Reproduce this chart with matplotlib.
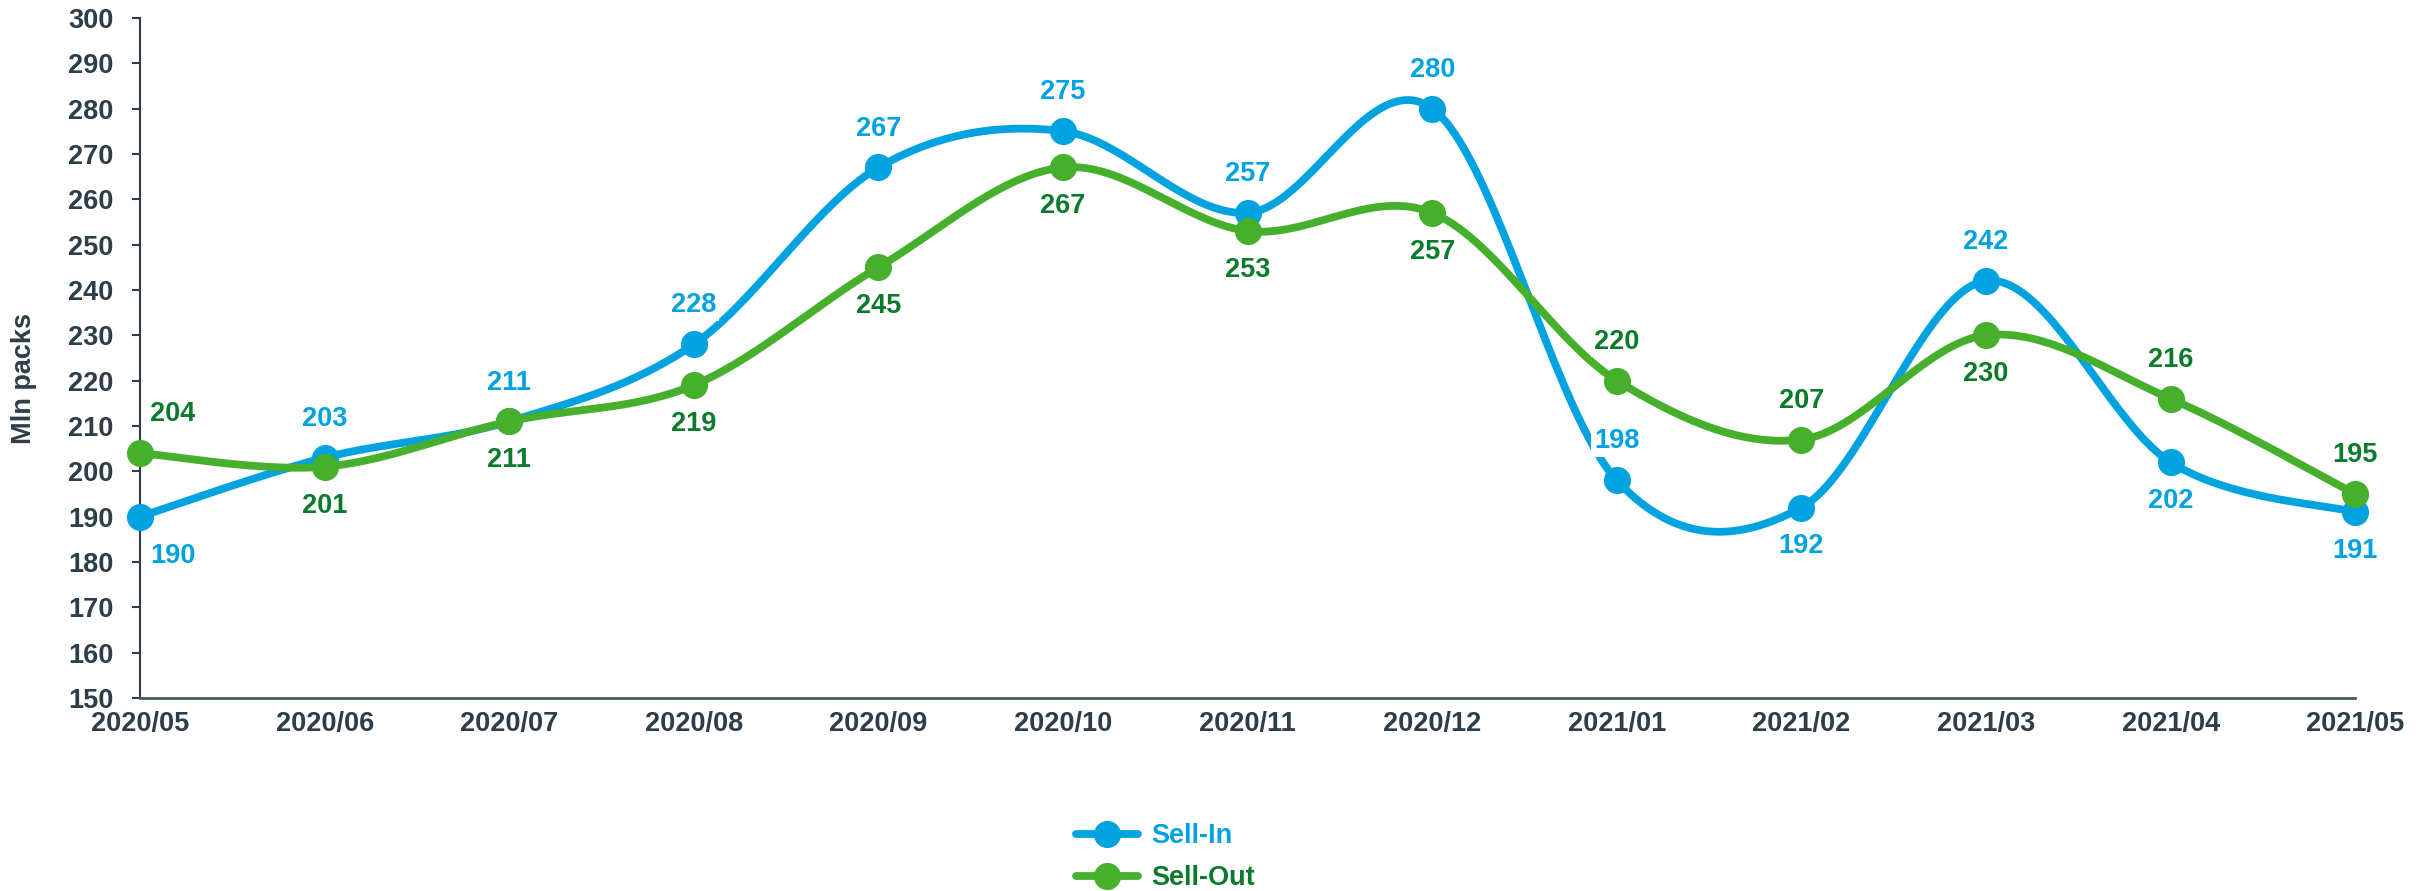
"""Sell-In vs Sell-Out monthly volume (Mln packs), smoothed line chart."""

import numpy as np
import matplotlib
matplotlib.use("Agg")
import matplotlib.pyplot as plt
from matplotlib.lines import Line2D

months = ["2020/05", "2020/06", "2020/07", "2020/08", "2020/09", "2020/10",
          "2020/11", "2020/12", "2021/01", "2021/02", "2021/03", "2021/04",
          "2021/05"]
sell_in = [190, 203, 211, 228, 267, 275, 257, 280, 198, 192, 242, 202, 191]
sell_out = [204, 201, 211, 219, 245, 267, 253, 257, 220, 207, 230, 216, 195]

# label placement: +1 above, -1 below
sell_in_pos = [-1, 1, 1, 1, 1, 1, 1, 1, 1, -1, 1, -1, -1]
sell_out_pos = [1, -1, -1, -1, -1, -1, -1, -1, 1, 1, -1, 1, 1]

BLUE = "#00A3E0"
GREEN = "#46B02C"
DKGREEN = "#0A7A2C"
AXIS = "#2D3E48"
FS = 19.5

plt.rcParams["font.family"] = ["Liberation Sans", "DejaVu Sans"]
plt.rcParams["font.weight"] = "bold"


def smooth(y, n=40):
    """Excel-like Catmull-Rom / Bezier smoothing through the points."""
    x = np.arange(len(y), dtype=float)
    y = np.asarray(y, dtype=float)
    px = np.concatenate([[x[0]], x, [x[-1]]])
    py = np.concatenate([[y[0]], y, [y[-1]]])
    xs, ys = [], []
    t = np.linspace(0, 1, n)
    for i in range(len(x) - 1):
        p0 = np.array([px[i], py[i]])
        p1 = np.array([px[i + 1], py[i + 1]])
        p2 = np.array([px[i + 2], py[i + 2]])
        p3 = np.array([px[i + 3], py[i + 3]])
        c1 = p1 + (p2 - p0) / 6
        c2 = p2 - (p3 - p1) / 6
        b = ((1 - t) ** 3)[:, None] * p1 + (3 * (1 - t) ** 2 * t)[:, None] * c1 \
            + (3 * (1 - t) * t ** 2)[:, None] * c2 + (t ** 3)[:, None] * p2
        xs.append(b[:, 0])
        ys.append(b[:, 1])
    return np.concatenate(xs), np.concatenate(ys)


fig = plt.figure(figsize=(24.28, 8.91), dpi=100)
ax = fig.add_axes([0.0577, 0.2166, 0.9123, 0.7634])

x = np.arange(len(months))
for vals, col in [(sell_in, BLUE), (sell_out, GREEN)]:
    sx, sy = smooth(vals)
    ax.plot(sx, sy, color=col, linewidth=5.6, solid_capstyle="round", zorder=3)
    ax.plot(x, vals, "o", color=col, markersize=18.5, zorder=4)

lbl_box = dict(boxstyle="square,pad=0.1", facecolor="white", edgecolor="none")
for vals, pos, col in [(sell_in, sell_in_pos, BLUE),
                       (sell_out, sell_out_pos, DKGREEN)]:
    for i, (v, p) in enumerate(zip(vals, pos)):
        first = i == 0
        ax.annotate(f"{v}", (x[i], v), textcoords="offset points",
                    xytext=(7 if first else 0, 28 * p),
                    ha="left" if first else "center", va="center",
                    fontsize=FS, fontweight="bold", color=col, zorder=5,
                    bbox=lbl_box)

ax.set_xlim(0, len(months) - 1)
ax.set_ylim(150, 300)
ax.set_yticks(np.arange(150, 301, 10))
ax.set_xticks(x)
ax.set_xticklabels(months)
ax.tick_params(axis="y", direction="out", length=6, width=1.5, color=AXIS,
               labelsize=FS, labelcolor=AXIS, pad=13)
ax.tick_params(axis="x", length=0, labelsize=FS, labelcolor=AXIS, pad=9)
for side in ["top", "right"]:
    ax.spines[side].set_visible(False)
ax.spines["left"].set_color(AXIS)
ax.spines["left"].set_linewidth(1.5)
ax.spines["bottom"].set_color("#4A5A63")
ax.spines["bottom"].set_linewidth(2)
ax.set_ylabel("Mln packs", fontsize=FS, fontweight="bold", color=AXIS)
ax.yaxis.set_label_coords(-0.0465, 0.47)
for art in ax.lines:
    art.set_clip_on(False)

handles = [
    Line2D([], [], color=BLUE, linewidth=5.6, marker="o", markersize=18.5,
           solid_capstyle="round"),
    Line2D([], [], color=GREEN, linewidth=5.6, marker="o", markersize=18.5,
           solid_capstyle="round"),
]
fig.legend(handles, ["Sell-In", "Sell-Out"], loc="center",
           bbox_to_anchor=(0.48, 0.038), frameon=False, fontsize=FS,
           handlelength=2.3, labelspacing=0.6, handletextpad=0.5,
           labelcolor=[BLUE, DKGREEN])

fig.savefig("out.png", dpi=100, facecolor="white")
